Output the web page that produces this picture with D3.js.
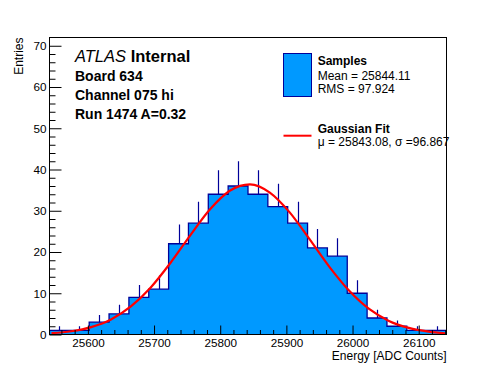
<!DOCTYPE html>
<html><head><meta charset="utf-8">
<script src="https://cdn.jsdelivr.net/npm/d3@7"></script>
<style>
html,body{margin:0;padding:0;background:#fff;}
svg{display:block;font-family:"Liberation Sans",Arial,Helvetica,sans-serif;}
</style></head>
<body>
<svg id="c" width="496" height="372"></svg>
<script>
// ---- data ----
const binCenters = [25557,25587,25617,25647,25677,25707,25737,25767,25797,25827,
                    25857,25887,25917,25947,25977,26007,26037,26067,26097,26127];
const counts     = [1,1,3,5,9,11,22,27,34,36,34,31,27,21,19,10,4,2,1,1];
const binWidth = 30;
const fitX = [25545,25575,25605,25635,25665,25695,25725,25755,25785,25815,25845,
              25875,25905,25935,25965,25995,26025,26055,26085,26115,26140];
const fitY = [0.32,0.79,1.8,3.65,6.8,11.4,17.4,24.1,30.4,34.9,36.4,
              34.4,29.6,23.1,16.4,10.6,6.2,3.3,1.6,0.7,0.3];
const xDomain = [25542, 26142];
const yDomain = [0, 72];
const xTicks = [25600,25700,25800,25900,26000,26100];
const yTicks = [0,10,20,30,40,50,60,70];
const headerLines = ["Board 634","Channel 075 hi","Run 1474 A=0.32"];
const legendSamples = ["Samples","Mean = 25844.11","RMS = 97.924"];
const legendFit = ["Gaussian Fit","\u03bc = 25843.08, \u03c3 =96.867"];

// ---- layout ----
const L=49.5, R=446.5, T=37.5, B=334.5;
const FILL="#0099ff", EDGE="#000099";
const svg=d3.select("#c");
const x=d3.scaleLinear().domain(xDomain).range([L,R]);
const y=d3.scaleLinear().domain(yDomain).range([B,T]);

svg.append("defs").append("clipPath").attr("id","clip")
  .append("rect").attr("x",L).attr("y",T).attr("width",R-L).attr("height",B-T);

// histogram
const steps=[];
counts.forEach((c,i)=>{
  steps.push([binCenters[i]-binWidth/2,c]);
  steps.push([binCenters[i]+binWidth/2,c]);
});
const poly=[[steps[0][0],0],...steps,[steps[steps.length-1][0],0]];
const line=d3.line().x(d=>x(d[0])).y(d=>y(d[1]));
const g=svg.append("g").attr("clip-path","url(#clip)");
g.append("path").attr("d",line(poly)+"Z").attr("fill",FILL).attr("stroke","none");
g.append("path").attr("d",line(poly)).attr("fill","none").attr("stroke",EDGE).attr("stroke-width",1.3);
// error bars (upper part visible)
g.selectAll("line.err").data(counts).enter().append("line")
  .attr("x1",(d,i)=>Math.round(x(binCenters[i]))+0.5).attr("x2",(d,i)=>Math.round(x(binCenters[i]))+0.5)
  .attr("y1",d=>y(d)).attr("y2",d=>y(d+Math.sqrt(d)))
  .attr("stroke",EDGE).attr("stroke-width",1.2);
// fit
g.append("path").datum(fitX.map((v,i)=>[v,fitY[i]]))
  .attr("d",d3.line().x(d=>x(d[0])).y(d=>y(d[1])).curve(d3.curveMonotoneX))
  .attr("fill","none").attr("stroke","#ff0000").attr("stroke-width",2.2);

// axes
const fs=11.7;
const ax=svg.append("g").attr("transform",`translate(0,${B})`)
  .call(d3.axisBottom(x).tickValues(xTicks).tickFormat(d3.format("d")).tickSizeInner(-9).tickSizeOuter(0).tickPadding(4.5));
const axm=svg.append("g").attr("transform",`translate(0,${B})`)
  .call(d3.axisBottom(x).tickValues(d3.range(25560,26141,20).filter(v=>v%100!==0)).tickFormat("").tickSizeInner(-4.5).tickSizeOuter(0));
const ay=svg.append("g").attr("transform",`translate(${L},0)`)
  .call(d3.axisLeft(y).tickValues(yTicks).tickSizeInner(-12).tickSizeOuter(0).tickPadding(3));
const aym=svg.append("g").attr("transform",`translate(${L},0)`)
  .call(d3.axisLeft(y).tickValues(d3.range(2,72,2).filter(v=>v%10!==0)).tickFormat("").tickSizeInner(-6).tickSizeOuter(0));
[ax,axm,ay,aym].forEach(a=>{a.select(".domain").remove();a.selectAll("line").attr("stroke","#000");
  a.selectAll("text").attr("font-size",fs).attr("font-family","Liberation Sans, Arial, sans-serif").attr("fill","#000");});

// frame
svg.append("rect").attr("x",L).attr("y",T).attr("width",R-L).attr("height",B-T)
  .attr("fill","none").attr("stroke","#000").attr("stroke-width",1);

// axis titles
svg.append("text").attr("x",R).attr("y",359.5).attr("text-anchor","end").attr("font-size",12).text("Energy [ADC Counts]");
svg.append("text").attr("transform",`translate(23,${T}) rotate(-90)`).attr("text-anchor","end").attr("font-size",12).text("Entries");

// header
const h=svg.append("text").attr("x",75).attr("y",62.3).attr("font-size",16.5);
h.append("tspan").attr("font-style","italic").text("ATLAS");
h.append("tspan").attr("font-weight","bold").text(" Internal");
svg.selectAll("text.hdr").data(headerLines).enter().append("text")
  .attr("x",75).attr("y",(d,i)=>81+i*19.2).attr("font-size",14).attr("font-weight","bold").text(d=>d);

// legend
svg.append("rect").attr("x",283.5).attr("y",53.5).attr("width",28).attr("height",43)
  .attr("fill",FILL).attr("stroke",EDGE).attr("stroke-width",1);
svg.selectAll("text.ls").data(legendSamples).enter().append("text")
  .attr("x",317.7).attr("y",(d,i)=>[65,80,93.3][i]).attr("font-size",12)
  .attr("font-weight",(d,i)=>i===0?"bold":"normal").text(d=>d);
svg.append("line").attr("x1",283.5).attr("x2",311.5).attr("y1",135.7).attr("y2",135.7)
  .attr("stroke","#ff0000").attr("stroke-width",2);
svg.selectAll("text.lf").data(legendFit).enter().append("text")
  .attr("x",317.7).attr("y",(d,i)=>[132.7,146][i]).attr("font-size",12)
  .attr("font-weight",(d,i)=>i===0?"bold":"normal").text(d=>d);
</script>
</body></html>
